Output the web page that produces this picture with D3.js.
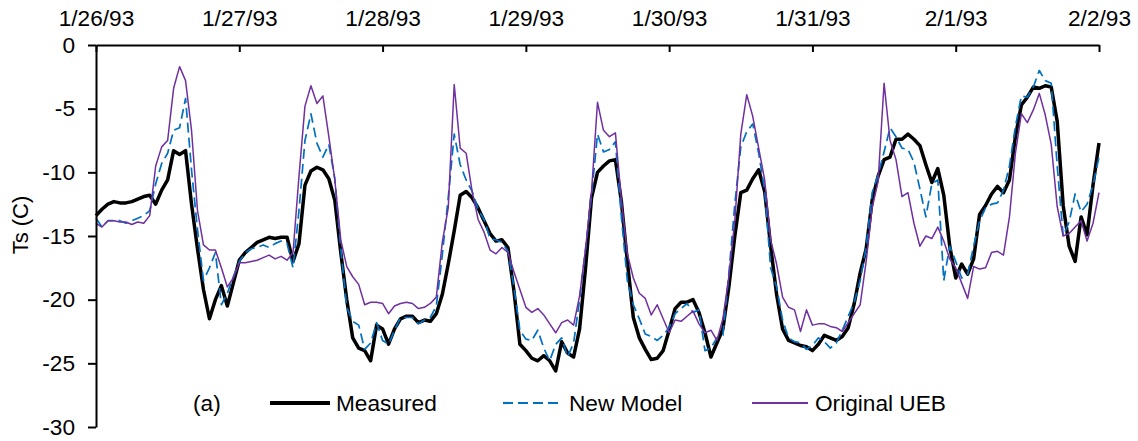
<!DOCTYPE html>
<html>
<head>
<meta charset="utf-8">
<script src="https://cdnjs.cloudflare.com/ajax/libs/d3/7.8.5/d3.min.js"></script>
<style>
  body { margin: 0; background: #fff; }
  svg text { font-family: "Liberation Sans", Arial, sans-serif; fill: #000; }
</style>
</head>
<body>
<svg id="chart" width="1138" height="441"></svg>
<script>
// hourly surface temperature, 1/26/93 00:00 to 2/2/93 00:00
var startDate = new Date(1993, 0, 26);
var dayTicks = ["1/26/93","1/27/93","1/28/93","1/29/93","1/30/93","1/31/93","2/1/93","2/2/93"];
var yTicks = [0, -5, -10, -15, -20, -25, -30];

var measured = [
  -13.4,-12.9,-12.5,-12.3,-12.4,-12.4,-12.3,-12.1,-11.9,-11.8,-12.5,-11.4,-10.6,-8.3,-8.6,-8.3,-12.5,-16.0,-19.2,-21.5,-20.0,-18.9,-20.5,-18.7,-16.9,
  -16.3,-15.9,-15.5,-15.3,-15.1,-15.2,-15.1,-15.1,-17.0,-15.6,-11.0,-9.9,-9.6,-9.8,-10.5,-12.2,-16.3,-20.0,-23.0,-23.8,-24.0,-24.8,-22.0,-22.3,
  -23.5,-22.3,-21.5,-21.3,-21.3,-21.8,-21.6,-21.7,-21.1,-19.6,-17.2,-14.6,-11.8,-11.5,-12.0,-12.8,-13.8,-14.8,-15.4,-15.3,-15.9,-19.3,-23.5,-24.0,
  -24.6,-24.8,-24.4,-24.8,-25.6,-23.3,-24.2,-24.5,-22.3,-17.5,-12.0,-10.0,-9.5,-9.1,-9.0,-12.3,-17.0,-21.4,-23.0,-23.9,-24.7,-24.6,-24.0,-22.4,
  -20.7,-20.2,-20.2,-20.0,-21.0,-22.6,-24.5,-23.4,-22.3,-19.0,-15.0,-11.6,-11.4,-10.5,-9.8,-11.5,-15.8,-19.6,-22.3,-23.2,-23.4,-23.6,-23.7,-24.0,
  -23.5,-22.8,-23.0,-23.2,-22.9,-22.2,-20.3,-17.9,-16.0,-12.2,-10.3,-9.0,-8.8,-7.4,-7.4,-7.0,-7.4,-7.9,-9.4,-10.8,-9.7,-11.8,-15.8,-18.3,
  -17.2,-18.0,-16.8,-13.3,-12.6,-11.7,-11.1,-11.6,-10.6,-7.2,-4.7,-4.1,-3.3,-3.4,-3.2,-3.3,-6.0,-12.6,-15.8,-17.0,-13.5,-14.9,-11.0,-7.7
];

var newModel = [
  -13.6,-14.3,-13.8,-13.8,-13.8,-14.0,-13.8,-13.6,-13.4,-13.0,-10.9,-9.3,-8.5,-6.7,-6.5,-4.2,-9.8,-14.5,-18.5,-17.5,-16.3,-20.4,-19.5,-18.2,-17.0,
  -16.3,-16.0,-15.9,-15.7,-15.9,-15.6,-15.4,-15.6,-17.5,-13.0,-7.5,-5.4,-7.7,-8.8,-7.8,-10.5,-16.0,-20.6,-21.7,-22.0,-23.9,-23.4,-21.8,-23.2,
  -23.5,-22.4,-21.4,-21.4,-21.4,-21.9,-21.6,-21.4,-20.5,-16.5,-12.0,-7.0,-9.4,-10.6,-11.5,-12.9,-13.7,-15.2,-15.3,-15.5,-16.2,-19.0,-22.4,-23.1,
  -23.2,-22.4,-23.8,-24.8,-23.5,-23.0,-24.5,-23.4,-20.0,-16.0,-11.8,-7.0,-8.4,-8.2,-7.6,-13.5,-18.5,-20.4,-21.5,-22.7,-22.9,-23.2,-22.8,-22.2,
  -21.1,-20.7,-20.3,-21.0,-20.8,-24.0,-23.8,-23.0,-22.8,-18.0,-12.5,-8.0,-6.8,-6.2,-8.5,-11.4,-17.5,-19.0,-21.6,-23.0,-23.3,-23.4,-23.9,-23.6,
  -23.0,-23.3,-23.8,-23.4,-22.4,-21.3,-20.2,-18.5,-15.9,-11.6,-10.2,-8.4,-6.5,-7.2,-8.1,-8.2,-9.2,-11.3,-13.5,-10.9,-10.6,-18.5,-15.8,-17.0,
  -18.3,-18.0,-15.8,-13.8,-12.8,-12.5,-12.4,-11.4,-9.5,-6.4,-4.0,-4.1,-3.3,-2.0,-2.8,-3.0,-9.5,-15.0,-13.9,-11.7,-13.1,-12.5,-11.0,-8.8
];

var originalUEB = [
  -14.0,-14.3,-13.8,-13.8,-13.9,-13.9,-14.1,-13.9,-14.0,-13.4,-9.5,-8.0,-7.5,-3.4,-1.7,-2.8,-6.7,-13.0,-15.7,-16.1,-16.1,-17.5,-19.0,-18.3,-17.1,
  -17.1,-17.0,-16.9,-16.7,-16.5,-16.8,-16.6,-16.9,-16.3,-10.3,-4.8,-3.2,-4.6,-4.0,-7.2,-10.6,-15.3,-17.4,-18.2,-18.8,-20.4,-20.2,-20.2,-20.3,
  -21.1,-20.5,-20.3,-20.2,-20.3,-20.7,-20.6,-20.3,-19.8,-15.5,-12.8,-3.1,-8.1,-8.5,-11.5,-13.7,-14.7,-16.1,-16.4,-15.9,-16.3,-17.8,-19.2,-20.6,
  -21.0,-20.7,-21.2,-21.9,-22.6,-21.8,-21.6,-22.0,-19.7,-16.0,-11.5,-4.5,-6.7,-7.2,-6.9,-12.2,-16.4,-18.3,-19.5,-19.9,-21.2,-20.4,-21.5,-22.6,
  -21.6,-21.7,-21.3,-20.9,-21.9,-22.6,-22.4,-23.2,-21.5,-18.2,-13.8,-7.0,-3.9,-5.6,-8.1,-10.6,-15.3,-17.2,-19.8,-20.6,-20.8,-22.5,-20.8,-22.0,
  -21.9,-21.9,-22.1,-22.2,-22.5,-21.8,-21.1,-20.4,-17.0,-12.8,-10.7,-3.0,-7.5,-9.0,-11.9,-11.6,-14.0,-15.8,-15.0,-15.2,-14.3,-15.4,-16.8,-17.5,
  -18.7,-19.9,-17.4,-17.6,-17.5,-16.3,-16.2,-16.5,-13.5,-8.5,-5.4,-6.1,-5.1,-3.8,-5.5,-7.8,-12.7,-15.0,-14.8,-14.3,-13.8,-15.4,-14.0,-11.6
];

var seriesNames = ["Measured", "New Model", "Original UEB"];

var svg = d3.select('#chart');
var margin = {left: 96, right: 1099, top: 45, bottom: 427};
var sx = 1.03; // text in the figure is slightly wide

var x = d3.scaleTime()
	.domain([startDate, d3.timeDay.offset(startDate, 7)])
	.range([margin.left, margin.right]);
var y = d3.scaleLinear()
	.domain([-30, 0])
	.range([margin.bottom, margin.top]);

function hourDate(i){ return d3.timeHour.offset(startDate, i); }

var series = [
	{name: seriesNames[0], values: measured, color: '#000000', width: 3.5, dash: null},
	{name: seriesNames[1], values: newModel, color: '#0070C0', width: 1.7, dash: '10,5'},
	{name: seriesNames[2], values: originalUEB, color: '#7030A0', width: 1.5, dash: null}
];

var line = d3.line()
	.x(function(d, i){ return x(hourDate(i)); })
	.y(function(d){ return y(d); });

svg.append('g').attr('class', 'lines')
	.selectAll('path')
	.data(series)
	.enter()
		.append('path')
			.attr('d', function(s){ return line(s.values); })
			.attr('fill', 'none')
			.attr('stroke', function(s){ return s.color; })
			.attr('stroke-width', function(s){ return s.width; })
			.attr('stroke-dasharray', function(s){ return s.dash; })
			.attr('stroke-linejoin', 'round');

// top date axis, ticks pointing down into the plot
var topAxis = d3.axisTop(x)
	.tickValues(dayTicks.map(function(d, i){ return d3.timeDay.offset(startDate, i); }))
	.tickFormat(function(d, i){ return dayTicks[i]; })
	.tickSizeInner(-7)
	.tickSizeOuter(0)
	.tickPadding(19);
var gx = svg.append('g')
	.attr('transform', 'translate(0,' + margin.top + ')')
	.call(topAxis);

// left value axis (plain hyphen for the minus, as in the figure)
var leftAxis = d3.axisLeft(y)
	.tickValues(yTicks)
	.tickFormat(function(d){ return String(d); })
	.tickSizeInner(8)
	.tickSizeOuter(0)
	.tickPadding(13);
var gy = svg.append('g')
	.attr('transform', 'translate(' + margin.left + ',0)')
	.call(leftAxis);

[gx, gy].forEach(function(g){
	g.select('.domain').attr('stroke', '#000').attr('stroke-width', 2);
	g.selectAll('.tick line').attr('stroke', '#000').attr('stroke-width', 2);
	g.selectAll('.tick text')
		.attr('font-family', '"Liberation Sans", Arial, sans-serif')
		.attr('font-size', 22)
		.attr('fill', '#000');
});
gx.selectAll('.tick text').attr('transform', 'scale(' + sx + ',1)');
gy.selectAll('.tick text').each(function(){
	var t = d3.select(this);
	var tx = +t.attr('x');
	t.attr('x', 0).attr('transform', 'translate(' + tx + ',0) scale(' + sx + ',1)');
});

// y title
svg.append('text')
	.attr('transform', 'translate(28,225) rotate(-90)')
	.attr('text-anchor', 'middle')
	.attr('font-size', 22)
	.text('Ts (C)');

// legend inside the plot
var legendY = 403;
svg.append('text')
	.attr('transform', 'translate(193,' + (legendY + 8) + ') scale(' + sx + ',1)')
	.attr('font-size', 22)
	.text('(a)');

var legendPos = [{x1: 270, x2: 330, tx: 336}, {x1: 503, x2: 562, tx: 569}, {x1: 752, x2: 808, tx: 815}];
var legend = svg.append('g').attr('class', 'legend')
	.selectAll('g')
	.data(series)
	.enter()
		.append('g');
legend.append('line')
	.attr('x1', function(s, i){ return legendPos[i].x1; })
	.attr('x2', function(s, i){ return legendPos[i].x2; })
	.attr('y1', legendY)
	.attr('y2', legendY)
	.attr('stroke', function(s){ return s.color; })
	.attr('stroke-width', function(s){ return s.width + 0.5; })
	.attr('stroke-dasharray', function(s){ return s.dash; });
legend.append('text')
	.attr('transform', function(s, i){ return 'translate(' + legendPos[i].tx + ',' + (legendY + 8) + ') scale(' + sx + ',1)'; })
	.attr('font-size', 22)
	.text(function(s){ return s.name; });
</script>
</body>
</html>
